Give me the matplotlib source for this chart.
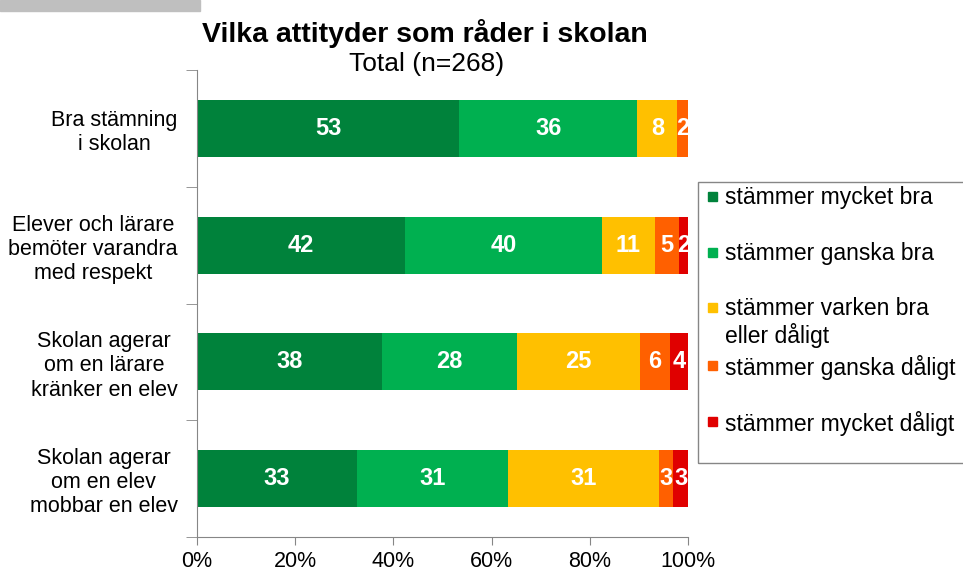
import matplotlib.pyplot as plt
import matplotlib.patches as mpatches
import numpy as np

plt.rcParams['font.family'] = ['Liberation Sans', 'DejaVu Sans']

categories = ['Bra stämning\ni skolan',
              'Elever och lärare\nbemöter varandra\nmed respekt',
              'Skolan agerar\nom en lärare\nkränker en elev',
              'Skolan agerar\nom en elev\nmobbar en elev']
series = ['stämmer mycket bra', 'stämmer ganska bra',
          'stämmer varken bra\neller dåligt', 'stämmer ganska dåligt',
          'stämmer mycket dåligt']
colors = ['#00823B', '#00B050', '#FFC000', '#FF6000', '#E00000']

# percent per category, one list per answer
mycket_bra = [53.4, 42.4, 37.6, 32.6]
ganska_bra = [36.3, 40.0, 27.5, 30.7]
varken = [8.1, 10.9, 25.1, 30.7]
ganska_daligt = [2.2, 4.8, 6.1, 3.0]
mycket_daligt = [0.0, 1.9, 3.7, 3.0]
values = [mycket_bra, ganska_bra, varken, ganska_daligt, mycket_daligt]

fig = plt.figure(figsize=(9.63, 5.72), dpi=100)
ax = fig.add_axes([197/963, 1-537/572, (688-197)/963, (537-70)/572])

y = np.arange(len(categories))
left = np.zeros(len(categories))
for vals, col in zip(values, colors):
    vals = np.array(vals)
    ax.barh(y, vals, left=left, height=0.49, color=col)
    for yi, l, v in zip(y, left, vals):
        if v > 0:
            ax.text(l + v/2, yi, f'{v:.0f}', ha='center', va='center',
                    color='white', fontsize=17, fontweight='bold')
    left += vals

ax.set_xlim(0, 100)
ax.set_ylim(len(categories) - 0.5, -0.5)
ax.set_xticks(range(0, 101, 20))
ax.set_xticklabels([f'{t}%' for t in range(0, 101, 20)], fontsize=15.5)
ax.set_yticks(y)
ax.set_yticklabels(categories, fontsize=15.5, multialignment='center')
ax.set_yticks(np.arange(-0.5, len(categories)), minor=True)
ax.tick_params(axis='y', which='major', length=0, pad=14)
ax.tick_params(axis='y', which='minor', length=8, color='#868686')
ax.tick_params(axis='x', length=6, color='#868686', pad=4)
for s in ['top', 'right']:
    ax.spines[s].set_visible(False)
for s in ['left', 'bottom']:
    ax.spines[s].set_color('#868686')

fig.text(425/963, 1-34/572, 'Vilka attityder som råder i skolan', ha='center',
         va='center', fontsize=20.5, fontweight='bold')
fig.text(427/963, 1-64/572, 'Total (n=268)', ha='center', va='center', fontsize=19)

# gray tab at the top left corner
fig.patches.append(mpatches.Rectangle((0, 1-11/572), 200/963, 11/572,
                                      transform=fig.transFigure, color='#BFBFBF'))

# legend box
fig.patches.append(mpatches.Rectangle((698/963, 1-463/572), 275/963, 281/572,
                                      transform=fig.transFigure, fill=False,
                                      edgecolor='#868686', linewidth=1))
legend_y = [197, 253, 308, 366, 422]
for name, col, ly in zip(series, colors, legend_y):
    fig.patches.append(mpatches.Rectangle((708/963, 1-(ly+4)/572), 9/963, 9/572,
                                          transform=fig.transFigure, color=col))
    fig.text(725/963, 1-(ly-11)/572, name, ha='left', va='top', fontsize=16.5,
             linespacing=1.15)

fig.savefig('out.png', dpi=100)
